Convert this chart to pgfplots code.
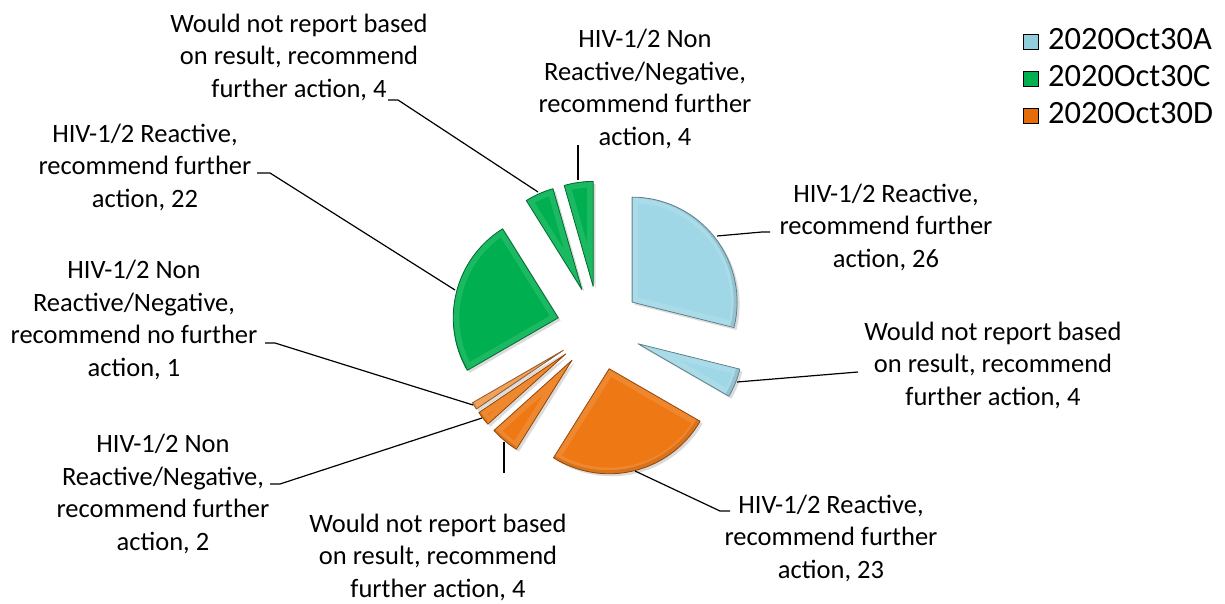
\documentclass[border=0pt]{standalone}
\usepackage{fontspec}
\setmainfont{Carlito}
\usepackage{pgfplots}
\pgfplotsset{compat=1.18}
\definecolor{cA}{RGB}{160,215,230}
\definecolor{cAl}{RGB}{146,205,220}
\definecolor{cC}{RGB}{0,176,80}
\definecolor{cD}{RGB}{238,120,20}
\definecolor{cDl}{RGB}{240,150,70}
\definecolor{cDleg}{RGB}{228,108,10}
\newcommand\cx{599}
\newcommand\cy{328}
\newcommand\R{105pt}
\newcommand\ex{42pt}
\newcommand\lab{\fontsize{26.5}{32.5}\selectfont}
% path of one slice: #1 = shift, #2 = running total before the slice, #3 = value (total 90 -> 4 degrees per unit)
\def\slicepath#1#2#3{([xshift=#1,yshift=-#1]axis cs:\cx,\cy) ++({90-(#2+#3/2)*4}:\ex) -- ++({90-#2*4}:\R) arc[start angle={90-#2*4}, end angle={90-(#2+#3)*4}, radius=\R] -- cycle}
\newcommand\slice[3]{%
  \fill[black,opacity=0.14] \slicepath{2.5pt}{#1}{#2};
  \fill[#3] \slicepath{0pt}{#1}{#2};
  \begin{scope}
    \clip \slicepath{0pt}{#1}{#2};
    \draw[#3!75!white, line width=12pt, opacity=0.45, line join=miter] \slicepath{0pt}{#1}{#2};
    \draw[#3!80!black, line width=4pt, opacity=0.5] ([xshift=-1.5pt,yshift=1.5pt]axis cs:\cx,\cy) ++({90-(#1+#2/2)*4}:\ex) ++({90-#1*4}:\R) arc[start angle={90-#1*4}, end angle={90-(#1+#2)*4}, radius=\R];
  \end{scope}
  \draw[#3!60!black, line width=0.8pt, line join=round] \slicepath{0pt}{#1}{#2};
}
\pgfplotsset{sqlegend/.style={legend image code/.code={\fill[##1] (0pt,-7.5pt) rectangle (15pt,7.5pt);}}}
\begin{document}
\begin{tikzpicture}
\begin{axis}[x=1pt, y=1pt, xmin=0, xmax=1225, ymin=0, ymax=600, y dir=reverse,
  hide axis, clip=false, scale only axis,
  legend style={at={(axis cs:1023,26)}, anchor=north west, draw=none, fill=none,
    font=\fontsize{32.5}{36}\selectfont, row sep=6pt, column sep=7pt, inner sep=0pt,
    nodes={inner sep=2.5pt, text height=21pt, text depth=5pt}},
  legend cell align=left]
\addlegendimage{sqlegend, fill=cAl}
\addlegendentry{2020Oct30A}
\addlegendimage{sqlegend, fill=cC}
\addlegendentry{2020Oct30C}
\addlegendimage{sqlegend, fill=cDleg}
\addlegendentry{2020Oct30D}
\path (axis cs:0,0) rectangle (axis cs:1225,600);
% 2020Oct30A
\slice{0}{26}{cA}
\slice{26}{4}{cA}
% 2020Oct30D
\slice{30}{23}{cD}
\slice{53}{4}{cD}
\slice{57}{2}{cD}
\slice{59}{1}{cDl}
% 2020Oct30C
\slice{60}{22}{cC}
\slice{82}{4}{cC}
\slice{86}{4}{cC}
% leader lines
\draw[line width=1.2pt] (axis cs:717,236) -- (axis cs:762,232) -- (axis cs:770,232);
\draw[line width=1.2pt] (axis cs:737,382) -- (axis cs:858,372);
\draw[line width=1.2pt] (axis cs:635,471) -- (axis cs:720,511) -- (axis cs:730,511);
\draw[line width=1.2pt] (axis cs:504,442) -- (axis cs:504,473);
\draw[line width=1.2pt] (axis cs:482,418) -- (axis cs:280,484) -- (axis cs:270,484);
\draw[line width=1.2pt] (axis cs:473,405) -- (axis cs:275,343) -- (axis cs:265,343);
\draw[line width=1.2pt] (axis cs:455,290) -- (axis cs:270,173) -- (axis cs:257,173);
\draw[line width=1.2pt] (axis cs:538,192) -- (axis cs:398,100) -- (axis cs:388,100);
\draw[line width=1.2pt] (axis cs:578,180) -- (axis cs:578,145);
% labels
\node[align=center, font=\lab] at (axis cs:886,227) {HIV-1/2 Reactive,\\recommend further\\action, 26};
\node[align=center, font=\lab] at (axis cs:993,365) {Would not report based\\on result, recommend\\further action, 4};
\node[align=center, font=\lab] at (axis cs:831,538) {HIV-1/2 Reactive,\\recommend further\\action, 23};
\node[align=center, font=\lab] at (axis cs:438,557) {Would not report based\\on result, recommend\\further action, 4};
\node[align=center, font=\lab] at (axis cs:163,494) {HIV-1/2 Non\\Reactive/Negative,\\recommend further\\action, 2};
\node[align=center, font=\lab] at (axis cs:134,320) {HIV-1/2 Non\\Reactive/Negative,\\recommend no further\\action, 1};
\node[align=center, font=\lab] at (axis cs:145,167) {HIV-1/2 Reactive,\\recommend further\\action, 22};
\node[align=center, font=\lab] at (axis cs:299,57) {Would not report based\\on result, recommend\\further action, 4};
\node[align=center, font=\lab] at (axis cs:645,89) {HIV-1/2 Non\\Reactive/Negative,\\recommend further\\action, 4};
\end{axis}
\end{tikzpicture}
\end{document}
